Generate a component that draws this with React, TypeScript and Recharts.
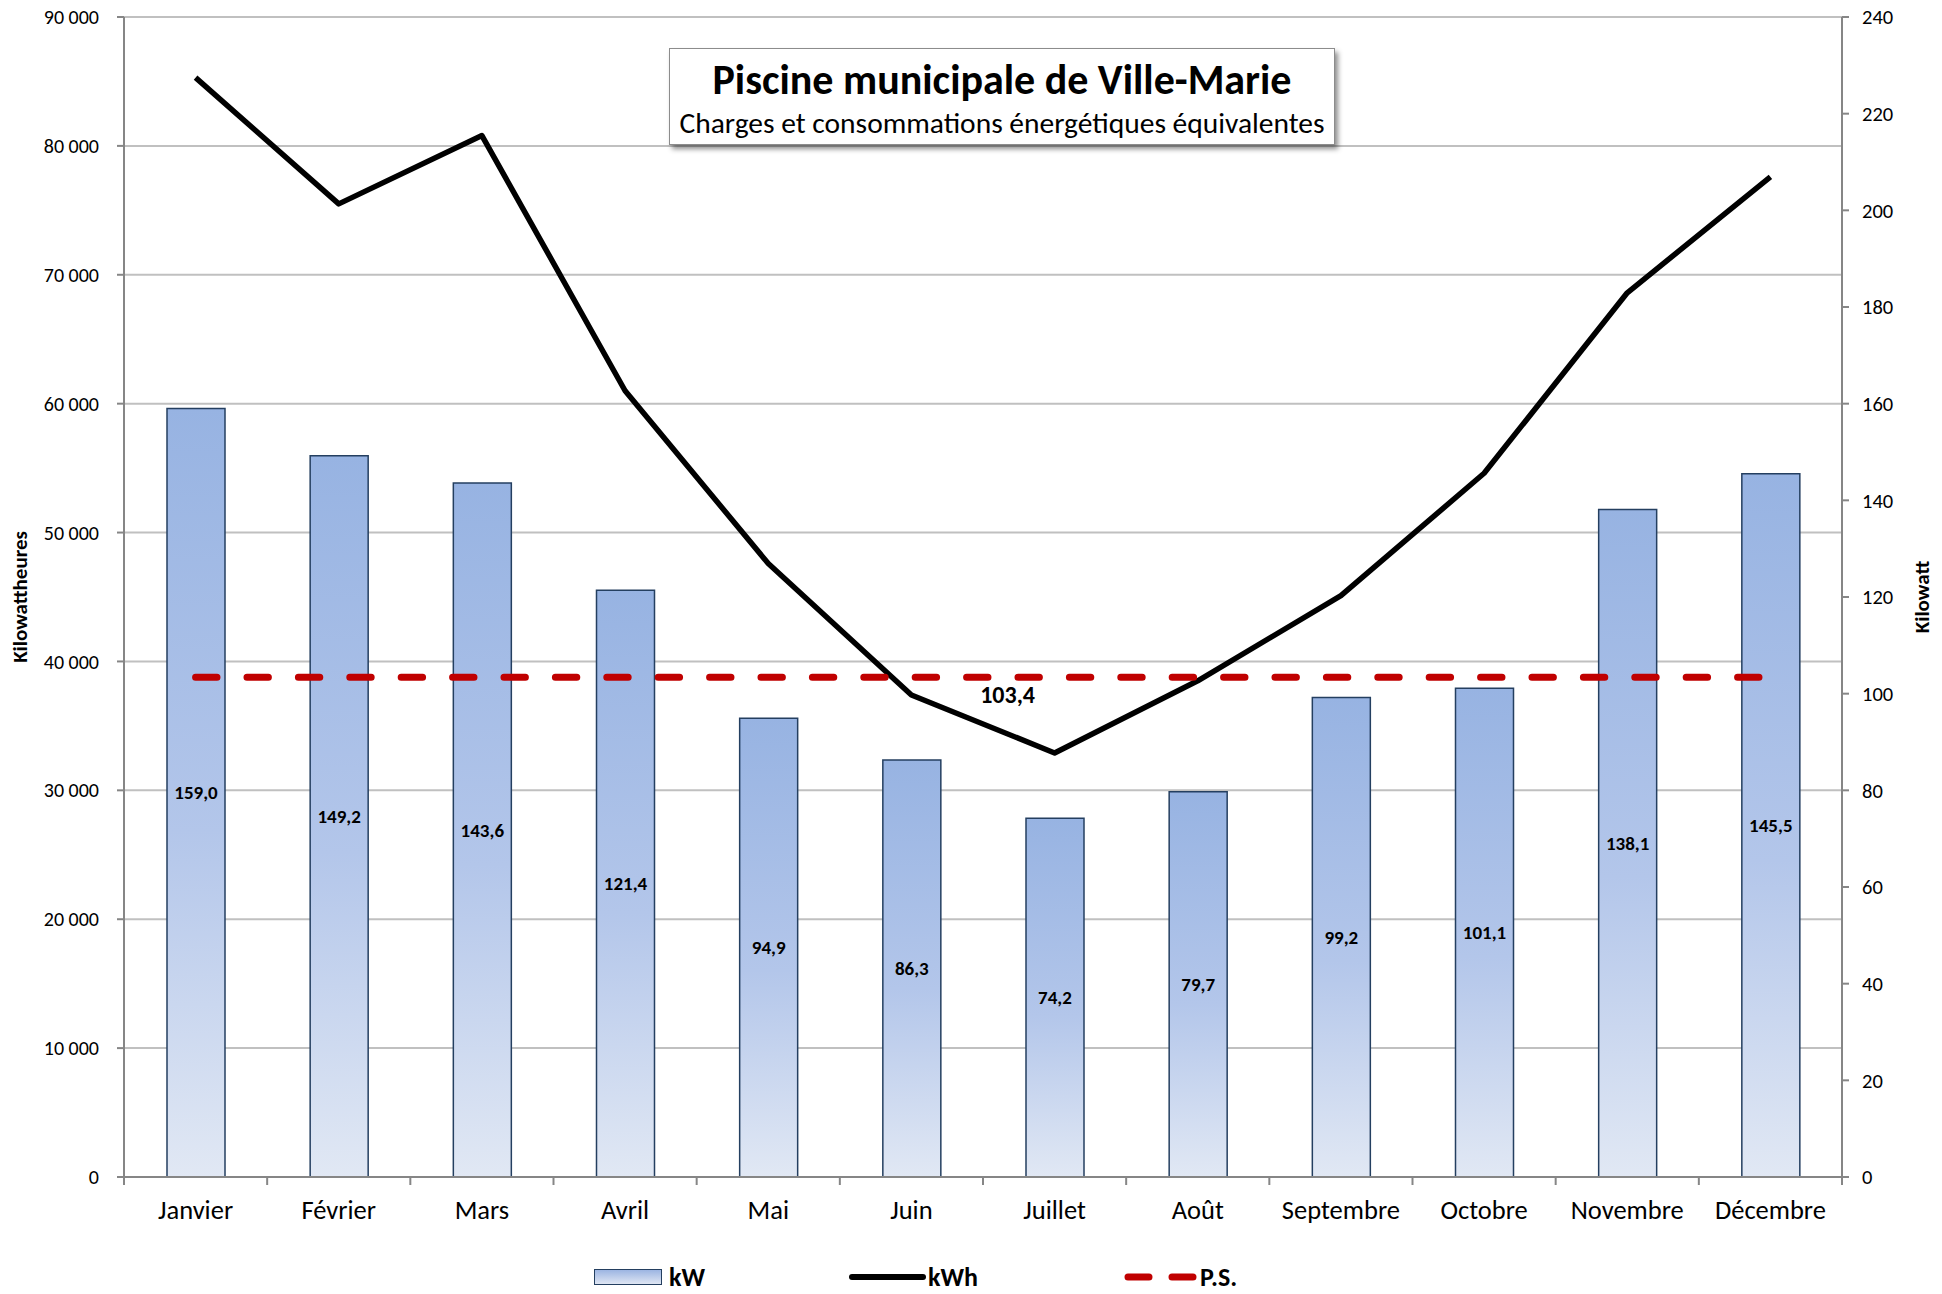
import React from 'react';
import { ComposedChart, Bar, Line, XAxis, YAxis, CartesianGrid, Legend, LabelList } from 'recharts';

const months = ['Janvier', 'Février', 'Mars', 'Avril', 'Mai', 'Juin', 'Juillet', 'Août', 'Septembre', 'Octobre', 'Novembre', 'Décembre'];
const kWValues = [159.0, 149.2, 143.6, 121.4, 94.9, 86.3, 74.2, 79.7, 99.2, 101.1, 138.1, 145.5];
const kWhValues = [85300, 75500, 80800, 61000, 47600, 37400, 32900, 38500, 45100, 54600, 68600, 77600];
const psValues = [103.4, 103.4, 103.4, 103.4, 103.4, 103.4, 103.4, 103.4, 103.4, 103.4, 103.4, 103.4];
const leftTicks = [0, 10000, 20000, 30000, 40000, 50000, 60000, 70000, 80000, 90000];
const rightTicks = [0, 20, 40, 60, 80, 100, 120, 140, 160, 180, 200, 220, 240];
const psLabelIndex = 6;

const data = months.map((m, i) => ({ month: m, kW: kWValues[i], kWh: kWhValues[i], ps: psValues[i] }));

const FONT = 'Carlito, Lato, sans-serif';
const AXIS = '#868686';

const fmtThousands = (v: number) => String(v).replace(/\B(?=(\d{3})+(?!\d))/g, ' ');
const fmtDec = (v: number) => Number(v).toFixed(1).replace('.', ',');

const XTick = (props: any) => {
  const { x, y, payload, index, visibleTicksCount, width } = props;
  const off = payload && payload.offset != null ? payload.offset : width / visibleTicksCount / 2;
  return (
    <g>
      <line x1={x - off} x2={x - off} y1={y} y2={y + 8} stroke={AXIS} strokeWidth={2} />
      {index === visibleTicksCount - 1 && (
        <line x1={x + off} x2={x + off} y1={y} y2={y + 8} stroke={AXIS} strokeWidth={2} />
      )}
      <text x={x} y={y + 33} dy="0.35em" textAnchor="middle" fontSize={26.5} fill="#000" fontFamily={FONT}>
        {payload.value}
      </text>
    </g>
  );
};

const BarValueLabel = (props: any) => {
  const vb = props.viewBox || props;
  const { x, y, width, height } = vb;
  return (
    <text x={x + width / 2} y={y + height / 2} dy="0.35em" textAnchor="middle" fontSize={19} fontWeight={700} fill="#000" fontFamily={FONT}>
      {fmtDec(props.value)}
    </text>
  );
};

const PsLabel = (props: any) => {
  if (props.index !== psLabelIndex) return null;
  const vb = props.viewBox || props;
  return (
    <text x={vb.x - 47} y={vb.y + 17} dy="0.35em" textAnchor="middle" fontSize={24} fontWeight={700} fill="#000" fontFamily={FONT}>
      {fmtDec(props.value)}
    </text>
  );
};

const LeftLabel = (props: any) => {
  const vb = props.viewBox;
  const cx = vb.x + 16;
  const cy = vb.y + vb.height / 2;
  return (
    <text transform={`translate(${cx},${cy}) rotate(-90)`} textAnchor="middle" dy="0.35em" fontSize={21} fontWeight={700} fill="#000" fontFamily={FONT}>
      Kilowattheures
    </text>
  );
};

const RightLabel = (props: any) => {
  const vb = props.viewBox;
  const cx = vb.x + 80;
  const cy = vb.y + vb.height / 2;
  return (
    <text transform={`translate(${cx},${cy}) rotate(-90)`} textAnchor="middle" dy="0.35em" fontSize={21} fontWeight={700} fill="#000" fontFamily={FONT}>
      Kilowatt
    </text>
  );
};

const LegendContent = () => (
  <div style={{ position: 'relative', width: 1942, height: 30, fontFamily: FONT, fontWeight: 700, fontSize: 26, color: '#000' }}>
    <div style={{ position: 'absolute', left: 594, top: 7, width: 66, height: 14, background: 'linear-gradient(#9CB5E2, #DFE6F3)', border: '1.5px solid #243F60' }} />
    <span style={{ position: 'absolute', left: 669, top: 0, lineHeight: '30px' }}>kW</span>
    <svg style={{ position: 'absolute', left: 848, top: 0 }} width={80} height={30}>
      <line x1={4} x2={75} y1={15} y2={15} stroke="#000" strokeWidth={6} strokeLinecap="round" />
    </svg>
    <span style={{ position: 'absolute', left: 928, top: 0, lineHeight: '30px' }}>kWh</span>
    <svg style={{ position: 'absolute', left: 1118, top: 0 }} width={82} height={30}>
      <line x1={10} x2={75} y1={15} y2={15} stroke="#C00000" strokeWidth={7} strokeLinecap="round" strokeDasharray="21 23" />
    </svg>
    <span style={{ position: 'absolute', left: 1200, top: 0, lineHeight: '30px' }}>P.S.</span>
  </div>
);

export default function App() {
  return (
    <div style={{ position: 'absolute', left: 0, top: 0, width: 1942, height: 1294, background: '#fff', fontFamily: FONT }}>
      <ComposedChart
        width={1942}
        height={1294}
        data={data}
        margin={{ top: 17, right: 0, left: 4, bottom: 57 }}
        barSize={58}
      >
        <defs>
          <linearGradient id="barGrad" x1="0" y1="0" x2="0" y2="1">
            <stop offset="0%" stopColor="#97B3E2" />
            <stop offset="55%" stopColor="#B3C6EA" />
            <stop offset="100%" stopColor="#E1E8F4" />
          </linearGradient>
        </defs>
        <CartesianGrid yAxisId="left" vertical={false} stroke="#C0C0C0" strokeWidth={2} />
        <XAxis
          dataKey="month"
          height={60}
          tickLine={false}
          tickSize={0}
          tickMargin={0}
          axisLine={{ stroke: AXIS, strokeWidth: 2 }}
          tick={<XTick />}
          interval={0}
        />
        <YAxis
          yAxisId="left"
          orientation="left"
          width={120}
          domain={[0, 90000]}
          ticks={leftTicks}
          tickFormatter={fmtThousands}
          tickSize={7}
          tickMargin={18}
          tickLine={{ stroke: AXIS, strokeWidth: 2 }}
          axisLine={{ stroke: AXIS, strokeWidth: 2 }}
          tick={{ fontSize: 20, fill: '#000', fontFamily: FONT }}
          allowDataOverflow
          label={<LeftLabel />}
        />
        <YAxis
          yAxisId="right"
          orientation="right"
          width={100}
          domain={[0, 240]}
          ticks={rightTicks}
          tickSize={7}
          tickMargin={13}
          tickLine={{ stroke: AXIS, strokeWidth: 2 }}
          axisLine={{ stroke: AXIS, strokeWidth: 2 }}
          tick={{ fontSize: 20.5, fill: '#000', fontFamily: FONT }}
          allowDataOverflow
          label={<RightLabel />}
        />
        <Bar yAxisId="right" dataKey="kW" name="kW" fill="url(#barGrad)" stroke="#243F60" strokeWidth={1.5} isAnimationActive={false}>
          <LabelList dataKey="kW" position="center" content={<BarValueLabel />} />
        </Bar>
        <Line yAxisId="left" dataKey="kWh" name="kWh" type="linear" stroke="#000" strokeWidth={5.5} dot={false} activeDot={false} strokeLinejoin="round" isAnimationActive={false} />
        <Line yAxisId="right" dataKey="ps" name="P.S." type="linear" stroke="#C00000" strokeWidth={7} strokeDasharray="21.4 30" strokeLinecap="round" dot={false} activeDot={false} isAnimationActive={false}>
          <LabelList dataKey="ps" content={<PsLabel />} />
        </Line>
        <Legend
          layout="horizontal"
          verticalAlign="middle"
          align="center"
          content={<LegendContent />}
          wrapperStyle={{ top: 1262, left: 0, width: 1942, height: 30 }}
        />
      </ComposedChart>
      <div
        style={{
          position: 'absolute',
          left: 669,
          top: 48,
          width: 664,
          height: 95,
          background: '#fff',
          border: '1px solid #8C8C8C',
          boxShadow: '3px 4px 5px rgba(0,0,0,0.45)',
          textAlign: 'center',
          color: '#000',
          fontFamily: FONT,
        }}
      >
        <div style={{ fontSize: 42, fontWeight: 700, marginTop: 8, lineHeight: '46px' }}>Piscine municipale de Ville-Marie</div>
        <div style={{ fontSize: 29.5, lineHeight: '34px', marginTop: 3 }}>Charges et consommations énergétiques équivalentes</div>
      </div>
    </div>
  );
}
